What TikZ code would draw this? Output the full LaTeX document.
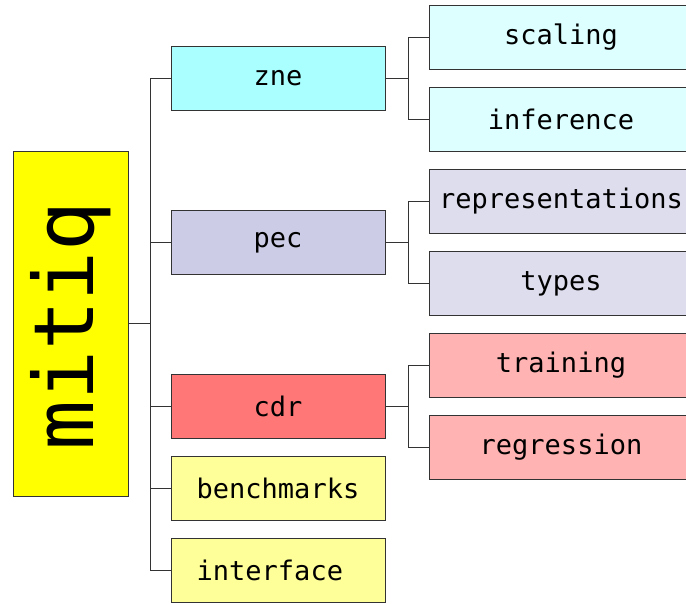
\documentclass[tikz,border=0pt]{standalone}
\usepackage{fontspec}
\setmonofont{DejaVu Sans Mono}
\begin{document}
\begin{tikzpicture}[x=1pt,y=-1pt,
  every node/.style={inner sep=0pt,font=\ttfamily\fontsize{27}{32}\selectfont},
  box/.style={draw=lc,line width=1pt,rectangle,text=black},
  mid/.style={box,minimum width=214pt,minimum height=64pt},
  leaf/.style={box,minimum width=264pt,minimum height=64pt},
  link/.style={draw=lc,line width=1pt}]
\definecolor{lc}{HTML}{333333}
\definecolor{czne}{HTML}{AAFFFF}
\definecolor{czsub}{HTML}{DDFFFF}
\definecolor{cpec}{HTML}{CCCCE6}
\definecolor{cpsub}{HTML}{DDDDEE}
\definecolor{ccdr}{HTML}{FF7777}
\definecolor{ccsub}{HTML}{FFB3B3}
\definecolor{cyel}{HTML}{FFFF99}
\definecolor{cmit}{HTML}{FFFF00}
\useasboundingbox (0,0) rectangle (686,604);
% root
\node[box,fill=cmit,minimum width=115pt,minimum height=344pt] (root) at (70.5,324) {};
\node[rotate=90,font=\ttfamily\fontsize{83}{90}\selectfont] (rootlabel) at (70.5,326) {mitiq};
% middle
\node[mid,fill=czne] (zne) at (278,78.5) {zne};
\node[mid,fill=cpec] (pec) at (278,242.5) {pec};
\node[mid,fill=ccdr] (cdr) at (278,406) {cdr};
\node[mid,fill=cyel] (bench) at (278,488) {benchmarks};
\node[mid,fill=cyel] (iface) at (278,570) {interface\phantom{x}};
% leaves
\node[leaf,fill=czsub] (scaling) at (561,37.5) {scaling};
\node[leaf,fill=czsub] (infer) at (561,119.5) {inference};
\node[leaf,fill=cpsub] (repr) at (561,201.5) {representations};
\node[leaf,fill=cpsub] (types) at (561,283.5) {types};
\node[leaf,fill=ccsub] (train) at (561,365.5) {training};
\node[leaf,fill=ccsub] (regr) at (561,447.5) {regression};
% trunk
\coordinate (tx) at (150,0);
\coordinate (sx) at (408,0);
\draw[link] (root.east) -- (root.east -| tx);
\draw[link] (zne.west -| tx) -- (iface.west -| tx);
\foreach \n in {zne,pec,cdr,bench,iface}{
  \draw[link] (\n.west -| tx) -- (\n.west);
}
\foreach \p/\a/\b in {zne/scaling/infer,pec/repr/types,cdr/train/regr}{
  \draw[link] (\p.east) -- (\p.east -| sx);
  \draw[link] (\a.west) -- (\a.west -| sx) -- (\b.west -| sx) -- (\b.west);
}
\end{tikzpicture}
\end{document}
